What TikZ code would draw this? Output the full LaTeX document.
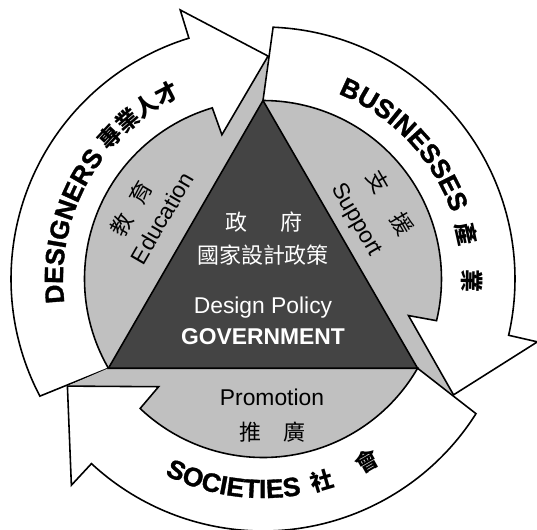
\documentclass[tikz,border=0pt]{standalone}
\usepackage{fontspec}
\setmainfont{Liberation Sans}
\newfontfamily\heavysans[BoldFeatures={FakeBold=1.3}]{Liberation Sans}
\newfontfamily\cjk{Noto Sans CJK TC}
\usetikzlibrary{decorations.text}

\definecolor{ringgray}{RGB}{192,192,192}
\definecolor{govgray}{RGB}{68,68,68}

\newcommand\ringfont{\heavysans\fontsize{15pt}{18pt}\selectfont\bfseries}
\newcommand\ringcjk{\cjk\fontsize{13pt}{15pt}\selectfont\bfseries}

\tikzset{
  arrowpart/.style={draw=black,line width=0.9pt,fill=white},
  govtext/.style={text=white,inner sep=0pt},
  segtext/.style={text=black,inner sep=0pt},
  latinlabel/.style={font=\fontsize{13pt}{16pt}\selectfont},
  cjklabel/.style={font=\cjk\fontsize{12.5pt}{15pt}\selectfont},
}

\begin{document}
\begin{tikzpicture}[x=0.02cm,y=0.02cm]

\useasboundingbox (-263,-250) rectangle (274,279) ;

% inner disc
\fill[ringgray] (0,0) circle (178.5) ;

% designers arrow, head at the top corner
\begin{scope}[rotate=0]

\fill[ringgray] (90:178.5) -- (88.7:223) -- (105.9:150) -- cycle ;

\draw[arrowpart] (210:178.5) -- (207.7:252)
  arc[start angle=207.7,end angle=107.1,radius=252]
  -- (107.1:281.5) -- (88.7:223) -- (105.9:150) -- (106.5:178.5)
  arc[start angle=106.5,end angle=210,radius=178.5] -- cycle ;

\end{scope}

% businesses arrow
\begin{scope}[rotate=-120]

\fill[ringgray] (90:178.5) -- (88.7:223) -- (105.9:150) -- cycle ;

\draw[arrowpart] (210:178.5) -- (207.7:252)
  arc[start angle=207.7,end angle=107.1,radius=252]
  -- (107.1:281.5) -- (88.7:223) -- (105.9:150) -- (106.5:178.5)
  arc[start angle=106.5,end angle=210,radius=178.5] -- cycle ;

\end{scope}

% societies arrow
\begin{scope}[rotate=120]

\fill[ringgray] (90:178.5) -- (88.7:223) -- (105.9:150) -- cycle ;

\draw[arrowpart] (210:178.5) -- (207.7:252)
  arc[start angle=207.7,end angle=107.1,radius=252]
  -- (107.1:281.5) -- (88.7:223) -- (105.9:150) -- (106.5:178.5)
  arc[start angle=106.5,end angle=210,radius=178.5] -- cycle ;

\end{scope}

% government triangle
\draw[line width=0.9pt,fill=govgray] (90:178.5) -- (210:178.5) -- (330:178.5) -- cycle ;

\node[govtext,cjklabel] (zhengfu) at (1,57) {政\hspace{18.7pt}府} ;
\node[govtext,cjklabel] (policyzh) at (0,24) {國家設計政策} ;
\node[govtext,latinlabel,anchor=base] (policy) at (0,-34) {Design Policy} ;
\node[govtext,font=\fontsize{13pt}{16pt}\selectfont\bfseries,anchor=base] (gov) at (0,-65) {GOVERNMENT} ;

% segment labels
\node[segtext,latinlabel,rotate=60] (edu) at (-101,61) {Education} ;
\node[segtext,cjklabel,rotate=60] (eduzh) at (-132,70.5) {教\hspace{8.8pt}育} ;

\node[segtext,latinlabel,rotate=-60] (support) at (93,59) {Support} ;
\node[segtext,cjklabel,rotate=-60] (supportzh) at (127.5,76.5) {支\hspace{15pt}援} ;

\node[segtext,latinlabel,anchor=base] (promo) at (9,-126) {Promotion} ;
\node[segtext,cjklabel] (promozh) at (9.5,-153) {推　廣} ;

% ring labels
\path[decorate,decoration={text along path,text align=center,
  text={|\ringfont|DESIGNERS |\ringcjk|專業人才}}]
  (230.5:200) arc[start angle=230.5,end angle=70.5,radius=200] ;

\path[decorate,decoration={text along path,text align=center,
  text={|\ringfont|BUSINESSES |\ringcjk| 產　業}}]
  (112:200) arc[start angle=112,end angle=-48,radius=200] ;

\path[decorate,decoration={text along path,text align=center,
  text={|\ringfont|SOCIETIES |\ringcjk| 社　 會}}]
  (193:219) arc[start angle=193,end angle=353,radius=219] ;

\end{tikzpicture}
\end{document}
